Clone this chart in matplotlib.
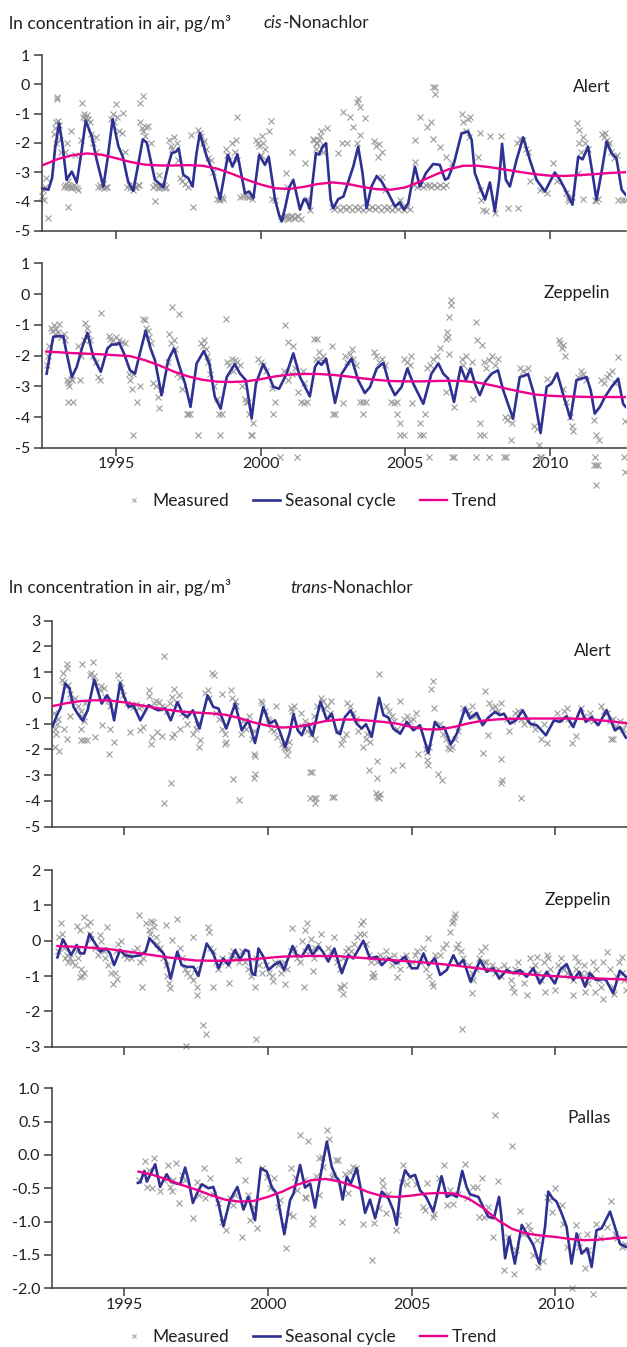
import matplotlib.pyplot as plt
from matplotlib.lines import Line2D

plt.rcParams["font.family"] = ["Lato", "DejaVu Sans"]
plt.rcParams["font.size"] = 12.5
plt.rcParams["axes.unicode_minus"] = False

GREY = "#9a9a9a"
BLUE = "#2e3192"
PINK = "#ec008c"
INK = "#231f20"
AXIS = "#3c3c3c"
TEXT_SIZE = 12.5
TICK_SIZE = 11.5

year_ticks = [1995, 2000, 2005, 2010]

# ---------------------------------------------------------------- cis-Nonachlor, Alert
cis_alert_measured = [
    (1992.45, -3.8), (1992.5, -3.6), (1992.55, -3.5), (1992.6, -3.2), (1992.52, -3.95), (1992.67, -4.56),
    (1992.96, -0.42), (1992.98, -0.5), (1992.9, -1.5), (1992.95, -1.3), (1993.0, -1.25), (1993.05, -1.4),
    (1992.88, -1.7), (1992.92, -2.0), (1993.1, -2.3), (1993.08, -1.9),
    (1993.2, -3.5), (1993.25, -3.45), (1993.3, -3.5), (1993.35, -3.45), (1993.4, -3.5), (1993.45, -3.55),
    (1993.5, -3.5), (1993.55, -3.45), (1993.6, -3.5), (1993.65, -3.55), (1993.7, -3.6), (1993.35, -3.3),
    (1993.25, -2.3), (1993.3, -2.0), (1993.44, -1.61), (1993.6, -2.4), (1993.34, -4.19),
    (1993.8, -1.9), (1993.85, -1.1), (1993.9, -1.0), (1993.95, -1.15), (1994.0, -1.05), (1994.05, -1.2),
    (1994.1, -1.3), (1993.84, -0.63), (1994.15, -1.7), (1994.2, -2.0), (1994.3, -2.3), (1994.3, -1.8),
    (1994.4, -3.5), (1994.45, -3.45), (1994.5, -3.5), (1994.55, -3.4), (1994.6, -3.55), (1994.65, -3.5),
    (1994.7, -3.5), (1994.85, -1.2), (1994.9, -1.0), (1995.0, -0.68), (1995.24, -0.97), (1994.95, -1.3),
    (1995.05, -1.1), (1995.1, -1.6), (1995.2, -1.67), (1995.3, -2.3),
    (1995.4, -3.5), (1995.45, -3.45), (1995.5, -3.55), (1995.55, -3.5), (1995.6, -3.6), (1995.65, -3.5),
    (1995.7, -3.5), (1995.75, -3.45), (1995.8, -3.45),
    (1995.85, -1.3), (1995.9, -1.5), (1995.95, -1.6), (1996.0, -1.75), (1996.05, -1.45), (1995.84, -0.65),
    (1995.93, -0.4), (1996.12, -1.42), (1996.2, -2.0),
    (1996.3, -3.5), (1996.35, -3.45), (1996.4, -3.45), (1996.45, -3.5), (1996.5, -3.55), (1996.55, -3.5),
    (1996.6, -3.5), (1996.65, -3.45), (1996.7, -3.55), (1996.75, -3.5), (1996.5, -3.1), (1996.35, -4.0),
    (1996.85, -1.9), (1996.9, -2.1), (1996.95, -2.2), (1997.0, -1.8), (1997.1, -2.0), (1997.15, -2.6),
    (1997.2, -3.2), (1997.3, -3.3), (1997.4, -3.4), (1997.5, -3.5), (1997.65, -4.19), (1997.6, -1.73),
    (1997.85, -1.55), (1997.9, -1.65), (1997.95, -1.75), (1998.0, -2.0), (1998.05, -1.95), (1998.1, -2.2),
    (1998.2, -2.5), (1998.3, -2.6), (1998.35, -3.0),
    (1998.5, -3.9), (1998.55, -3.95), (1998.6, -3.9), (1998.65, -3.85), (1998.7, -3.9),
    (1998.8, -2.2), (1998.85, -2.4), (1998.9, -2.6), (1999.0, -2.0), (1999.1, -2.3), (1999.17, -1.1),
    (1999.15, -1.9), (1999.2, -2.6), (1999.3, -3.85), (1999.4, -3.8), (1999.5, -3.8), (1999.55, -3.85),
    (1999.6, -3.85), (1999.7, -3.9),
    (1999.85, -1.9), (1999.9, -2.0), (1999.95, -2.1), (2000.0, -2.4), (2000.05, -1.75), (2000.1, -2.0),
    (2000.15, -2.2), (2000.2, -2.6), (2000.35, -1.24), (2000.3, -1.6), (2000.4, -3.9), (2000.5, -3.95),
    (2000.7, -4.5), (2000.75, -4.6), (2000.8, -4.55), (2000.85, -4.5), (2000.9, -4.5), (2000.95, -4.6),
    (2001.0, -4.55), (2001.05, -4.5), (2001.1, -4.5), (2001.15, -4.55), (2001.2, -4.55), (2001.25, -4.5),
    (2001.3, -4.5), (2001.4, -4.6),
    (2000.9, -3.5), (2000.87, -3.03), (2001.07, -2.3), (2001.53, -2.69), (2001.6, -3.9), (2001.7, -4.3),
    (2001.82, -1.85), (2001.85, -1.9), (2001.9, -2.0), (2001.95, -2.0), (2002.0, -1.9), (2002.05, -1.75),
    (2002.1, -1.6), (2002.15, -2.3), (2002.2, -2.1), (2002.28, -1.5), (2001.9, -2.2),
    (2002.45, -4.2), (2002.55, -4.25), (2002.65, -4.2), (2002.75, -4.3), (2002.85, -4.2), (2002.95, -4.25),
    (2003.05, -4.2), (2003.15, -4.3), (2003.25, -4.2), (2003.35, -4.25), (2003.45, -4.2), (2003.55, -4.3),
    (2003.65, -4.2), (2003.75, -4.25), (2003.85, -4.2), (2003.95, -4.25), (2004.05, -4.2), (2004.15, -4.3),
    (2004.25, -4.2), (2004.35, -4.25), (2004.45, -4.2), (2004.55, -4.3), (2004.65, -4.2), (2004.75, -4.25),
    (2004.85, -4.2), (2004.95, -4.3), (2005.05, -4.2), (2005.15, -4.25),
    (2002.86, -0.93), (2003.09, -1.1), (2003.2, -1.44), (2002.97, -2.0), (2003.32, -0.6), (2003.37, -0.5),
    (2003.43, -0.76), (2003.32, -2.0), (2003.43, -1.73), (2003.6, -1.16), (2002.68, -2.35), (2002.8, -2.0),
    (2003.9, -1.95), (2004.0, -2.1), (2004.1, -2.05), (2004.2, -2.3), (2004.06, -2.47), (2004.18, -3.15),
    (2004.3, -3.6), (2004.81, -3.94),
    (2005.5, -1.1), (2005.73, -1.44), (2005.9, -1.27), (2005.96, -0.1), (2006.02, -0.1), (2006.02, -0.33),
    (2005.96, -1.88), (2005.33, -1.9), (2005.33, -2.64),
    (2005.3, -3.45), (2005.4, -3.5), (2005.5, -3.45), (2005.6, -3.5), (2005.7, -3.45), (2005.8, -3.45),
    (2005.9, -3.5), (2006.0, -3.45), (2006.1, -3.5), (2006.2, -3.45), (2006.3, -3.5), (2006.4, -3.45),
    (2006.19, -2.13), (2006.42, -2.47), (2006.6, -2.69),
    (2006.94, -1.0), (2007.0, -1.3), (2007.1, -1.6), (2007.15, -1.2), (2007.2, -1.8), (2007.23, -1.1),
    (2007.57, -1.67), (2007.92, -1.78), (2007.52, -2.47), (2007.57, -3.6), (2007.69, -4.28), (2007.8, -4.34),
    (2007.6, -3.95), (2008.09, -4.4), (2008.32, -1.76), (2008.55, -4.23), (2008.9, -4.23),
    (2008.85, -2.0), (2008.95, -1.85), (2009.05, -1.9), (2009.15, -2.2), (2009.25, -2.3), (2009.3, -3.3),
    (2009.65, -3.6), (2009.9, -3.7), (2010.1, -2.7), (2010.25, -3.3),
    (2010.55, -3.7), (2010.6, -3.9), (2010.65, -4.0), (2010.75, -3.85), (2011.14, -3.9),
    (2010.93, -1.33), (2010.98, -1.55), (2011.0, -2.0), (2011.05, -2.3), (2011.15, -1.8), (2011.2, -2.0),
    (2011.3, -2.2), (2010.97, -3.03),
    (2011.55, -3.95), (2011.6, -4.0), (2011.65, -3.9),
    (2011.8, -1.7), (2011.85, -1.8), (2011.9, -1.65), (2011.95, -1.9), (2012.0, -2.1), (2012.05, -2.0),
    (2012.1, -2.3), (2012.2, -2.5), (2012.3, -2.4), (2012.35, -3.94), (2012.47, -3.95), (2012.57, -3.95),
]
cis_alert_seasonal = [
    (1992.45, -3.55), (1992.67, -3.6), (1992.8, -3.2), (1992.9, -2.2), (1993.04, -1.33), (1993.15, -2.0),
    (1993.3, -3.26), (1993.48, -2.98), (1993.65, -3.35), (1993.8, -2.4), (1993.96, -1.24), (1994.17, -1.78),
    (1994.34, -2.58), (1994.57, -3.49), (1994.72, -2.5), (1994.89, -1.19), (1995.09, -2.12), (1995.24, -2.47),
    (1995.42, -3.3), (1995.6, -3.64), (1995.78, -2.7), (1995.93, -1.88), (1996.07, -1.99), (1996.35, -3.26),
    (1996.64, -3.51), (1996.8, -2.8), (1996.93, -2.35), (1997.08, -2.3), (1997.17, -2.18), (1997.33, -3.09),
    (1997.5, -3.2), (1997.65, -3.49), (1997.78, -2.4), (1997.9, -1.67), (1998.14, -2.47), (1998.37, -3.03),
    (1998.6, -3.92), (1998.75, -3.1), (1998.87, -2.41), (1999.03, -2.81), (1999.2, -2.39), (1999.46, -3.72),
    (1999.61, -3.66), (1999.75, -3.89), (1999.95, -2.41), (2000.15, -2.75), (2000.28, -2.47), (2000.5, -3.94),
    (2000.65, -4.5), (2000.73, -4.68), (2000.85, -4.2), (2001.0, -3.5), (2001.13, -3.26), (2001.36, -4.28),
    (2001.5, -3.92), (2001.57, -3.94), (2001.7, -4.25), (2001.8, -3.3), (2001.91, -2.35), (2002.02, -2.4),
    (2002.14, -2.13), (2002.26, -2.01), (2002.42, -3.94), (2002.51, -4.23), (2002.68, -3.92), (2002.86, -3.83),
    (2003.03, -3.32), (2003.2, -2.81), (2003.37, -2.13), (2003.52, -3.03), (2003.66, -4.23), (2003.83, -3.49),
    (2004.01, -3.13), (2004.18, -3.32), (2004.41, -3.72), (2004.64, -4.17), (2004.81, -4.03), (2004.95, -4.28),
    (2005.1, -4.06), (2005.33, -2.81), (2005.5, -3.49), (2005.71, -3.03), (2005.96, -2.72), (2006.19, -2.75),
    (2006.37, -3.26), (2006.48, -3.2), (2006.68, -2.69), (2006.94, -1.67), (2007.17, -1.61), (2007.29, -1.9),
    (2007.4, -3.03), (2007.57, -3.49), (2007.75, -3.94), (2007.92, -3.35), (2008.09, -4.34), (2008.24, -3.26),
    (2008.34, -2.03), (2008.47, -3.26), (2008.61, -3.49), (2008.84, -2.58), (2009.07, -1.81), (2009.3, -2.58),
    (2009.53, -3.26), (2009.82, -3.66), (2010.16, -3.01), (2010.34, -3.26), (2010.57, -3.69), (2010.77, -4.11),
    (2010.97, -2.47), (2011.12, -2.56), (2011.31, -2.13), (2011.46, -3.03), (2011.6, -3.94), (2011.77, -3.03),
    (2011.95, -1.95), (2012.12, -2.35), (2012.29, -2.52), (2012.47, -3.6), (2012.61, -3.77),
]
cis_alert_trend = [
    (1992.45, -2.77), (1993.0, -2.55), (1993.5, -2.42), (1994.0, -2.36), (1994.5, -2.4), (1995.0, -2.52),
    (1995.5, -2.65), (1996.0, -2.74), (1996.5, -2.77), (1997.0, -2.77), (1997.5, -2.76), (1998.0, -2.78),
    (1998.5, -2.88), (1999.0, -3.05), (1999.5, -3.25), (2000.0, -3.42), (2000.5, -3.55), (2001.0, -3.57),
    (2001.5, -3.5), (2002.0, -3.4), (2002.5, -3.35), (2003.0, -3.4), (2003.5, -3.5), (2004.0, -3.58),
    (2004.5, -3.6), (2005.0, -3.52), (2005.5, -3.32), (2006.0, -3.1), (2006.5, -2.9), (2007.0, -2.78),
    (2007.5, -2.78), (2008.0, -2.84), (2008.5, -2.92), (2009.0, -3.0), (2009.5, -3.07), (2010.0, -3.12),
    (2010.5, -3.13), (2011.0, -3.1), (2011.5, -3.07), (2012.0, -3.03), (2012.62, -3.0),
]

# ---------------------------------------------------------------- cis-Nonachlor, Zeppelin
cis_zeppelin_measured = [
    (1992.75, -1.1), (1992.8, -1.2), (1992.85, -1.0), (1992.9, -1.3), (1992.95, -1.15), (1993.0, -1.25),
    (1993.05, -0.96), (1993.1, -1.4), (1993.2, -1.3), (1993.25, -1.5), (1992.7, -1.7), (1992.65, -2.0),
    (1992.62, -2.3), (1993.3, -2.8), (1993.35, -2.9), (1993.4, -3.0), (1993.45, -2.75), (1993.5, -2.8),
    (1993.36, -3.5), (1993.53, -3.5), (1993.7, -1.7), (1993.8, -2.0), (1993.9, -1.5), (1994.0, -1.1),
    (1994.05, -1.3), (1994.1, -1.5), (1993.95, -0.95), (1993.76, -2.8), (1994.2, -2.0), (1994.3, -2.2),
    (1994.4, -2.7), (1994.45, -2.8), (1994.49, -0.6), (1994.8, -1.45), (1994.9, -1.5), (1995.0, -1.4),
    (1995.1, -1.5), (1995.2, -1.55), (1995.3, -1.6), (1994.75, -1.35), (1995.45, -2.6), (1995.5, -2.8),
    (1995.55, -3.1), (1995.6, -2.6), (1995.72, -3.5), (1995.58, -4.6), (1995.83, -3.0),
    (1995.95, -0.8), (1996.0, -0.85), (1996.05, -1.1), (1996.1, -1.2), (1996.15, -1.4), (1996.2, -1.6),
    (1996.3, -2.9), (1996.4, -3.0), (1996.45, -3.35), (1996.5, -3.7), (1996.55, -3.1),
    (1996.93, -0.41), (1997.18, -0.65), (1996.85, -1.3), (1996.9, -1.6), (1997.0, -1.5), (1997.05, -1.8),
    (1996.8, -2.2), (1997.1, -2.6), (1997.2, -2.7), (1997.3, -3.1), (1997.45, -3.9), (1997.5, -3.9),
    (1997.55, -3.9), (1997.95, -1.6), (1998.0, -1.7), (1998.05, -1.5), (1998.1, -1.8), (1998.15, -2.0),
    (1998.2, -2.2), (1998.25, -2.6), (1997.85, -4.6), (1998.4, -3.0), (1998.5, -3.4), (1998.55, -3.9),
    (1998.65, -3.9), (1998.6, -4.6), (1998.8, -0.8), (1998.85, -2.2), (1998.9, -2.3), (1999.0, -2.1),
    (1999.1, -2.15), (1999.2, -2.2), (1999.3, -2.3), (1999.05, -2.5), (1999.35, -3.0), (1999.45, -3.4),
    (1999.5, -3.5), (1999.55, -3.5), (1999.6, -3.9), (1999.66, -4.6), (1999.7, -4.6), (1999.75, -4.2),
    (1999.9, -2.1), (2000.0, -2.2), (2000.1, -2.3), (2000.2, -2.5), (2000.44, -3.9), (2000.5, -3.5),
    (2000.38, -3.05), (2000.84, -1.0), (2000.96, -1.55), (2001.13, -1.7), (2000.8, -2.5), (2000.95, -2.8),
    (2001.1, -2.6), (2001.2, -2.4), (2001.4, -3.5), (2001.5, -3.55), (2001.6, -3.5), (2001.3, -3.2),
    (2001.85, -1.45), (2001.9, -2.1), (2001.45, -2.5), (2001.5, -2.9), (2001.94, -1.45), (2002.0, -1.9),
    (2002.05, -2.1), (2002.15, -2.0), (2002.2, -2.2), (2002.45, -1.7), (2002.51, -3.9), (2002.56, -3.9),
    (2002.86, -3.55), (2002.9, -2.0), (2003.0, -2.2), (2003.1, -1.95), (2003.2, -2.1), (2003.3, -2.3),
    (2003.15, -1.8), (2003.45, -3.5), (2003.55, -3.5), (2003.65, -3.5), (2003.55, -3.9), (2003.9, -1.9),
    (2004.0, -2.0), (2004.1, -2.2), (2004.2, -2.1), (2004.3, -2.3), (2004.5, -3.5), (2004.6, -3.55),
    (2004.7, -3.5), (2004.7, -3.9), (2004.8, -4.2), (2004.82, -4.6), (2004.95, -4.6), (2004.95, -2.1),
    (2005.05, -2.2), (2005.15, -2.3), (2005.2, -2.0), (2005.22, -3.55), (2005.5, -4.2), (2005.5, -4.6),
    (2005.6, -4.6), (2005.68, -3.9), (2005.75, -2.4), (2005.85, -2.3), (2005.95, -2.1), (2006.1, -2.0),
    (2006.2, -1.75), (2006.56, -0.2), (2006.57, -0.35), (2006.52, -0.76), (2006.45, -1.25), (2006.4, -1.45),
    (2006.5, -1.95), (2006.46, -1.4), (2006.68, -3.68), (2006.42, -3.2), (2006.95, -2.1), (2007.0, -2.3),
    (2007.1, -2.0), (2007.2, -2.5), (2007.3, -2.2), (2007.44, -0.9), (2007.63, -1.65), (2007.46, -1.5),
    (2007.57, -4.2), (2007.57, -4.6), (2007.72, -4.6), (2007.35, -3.4), (2007.7, -2.2), (2007.8, -2.4),
    (2007.9, -2.15), (2008.0, -2.0), (2008.1, -2.3), (2008.2, -2.1), (2008.5, -4.1), (2008.6, -4.0),
    (2008.7, -4.2), (2008.65, -4.74), (2008.45, -4.0), (2008.95, -2.4), (2009.05, -2.5), (2009.15, -2.6),
    (2009.25, -2.4), (2009.6, -4.9), (2009.45, -4.3), (2009.55, -4.4), (2009.88, -2.75), (2010.3, -1.5),
    (2010.35, -1.6), (2010.4, -1.75), (2010.45, -1.65), (2010.5, -2.0), (2010.45, -3.1), (2010.55, -3.5),
    (2010.7, -4.0), (2010.75, -4.3), (2010.8, -4.45), (2010.95, -2.7), (2011.05, -2.5), (2011.15, -2.6),
    (2011.25, -2.8), (2011.5, -4.1), (2011.6, -4.6), (2011.7, -4.75), (2011.75, -2.8), (2011.85, -2.9),
    (2011.95, -2.7), (2012.05, -2.6), (2012.15, -2.5), (2012.25, -2.9), (2012.35, -2.05), (2012.58, -4.13),
    (2000.66, -5.3), (2001.25, -5.3), (2005.8, -5.3), (2006.6, -5.3), (2006.68, -5.3), (2007.45, -5.3),
    (2007.9, -5.3), (2008.4, -5.3), (2008.47, -5.3), (2009.65, -5.3), (2009.7, -5.3), (2011.55, -5.3),
    (2011.5, -5.55), (2011.57, -5.55), (2011.64, -5.55), (2012.55, -5.3), (2012.6, -5.8), (2011.6, -6.2),
]
cis_zeppelin_seasonal = [
    (1992.61, -2.59), (1992.72, -2.0), (1992.84, -1.39), (1993.0, -1.37), (1993.19, -1.37), (1993.28, -1.83),
    (1993.48, -2.7), (1993.65, -2.37), (1993.85, -1.7), (1994.02, -1.26), (1994.22, -2.04), (1994.48, -2.53),
    (1994.71, -1.77), (1994.86, -1.64), (1995.03, -1.64), (1995.12, -1.59), (1995.28, -1.93), (1995.49, -2.48),
    (1995.66, -2.59), (1995.83, -1.93), (1996.03, -1.2), (1996.2, -1.77), (1996.35, -2.15), (1996.58, -3.29),
    (1996.81, -2.15), (1997.01, -1.77), (1997.22, -2.42), (1997.39, -2.91), (1997.58, -3.67), (1997.79, -2.26),
    (1998.04, -1.85), (1998.23, -2.26), (1998.42, -3.35), (1998.62, -3.73), (1998.83, -2.7), (1999.11, -2.28),
    (1999.29, -2.59), (1999.49, -2.8), (1999.69, -4.05), (1999.84, -2.91), (2000.09, -2.28), (2000.26, -2.59),
    (2000.44, -3.02), (2000.64, -3.08), (2000.9, -2.59), (2001.13, -1.93), (2001.36, -2.7), (2001.7, -3.33),
    (2001.88, -2.37), (2001.99, -2.21), (2002.1, -2.3), (2002.26, -2.1), (2002.4, -2.7), (2002.57, -3.54),
    (2002.8, -2.59), (2003.14, -2.1), (2003.37, -2.8), (2003.6, -3.22), (2003.78, -3.02), (2004.01, -2.42),
    (2004.24, -2.24), (2004.44, -2.91), (2004.64, -3.29), (2004.87, -3.02), (2005.07, -2.42), (2005.27, -2.91),
    (2005.62, -3.57), (2005.9, -2.59), (2006.14, -2.26), (2006.31, -2.59), (2006.48, -2.75), (2006.68, -3.51),
    (2006.91, -2.37), (2007.09, -2.8), (2007.25, -2.42), (2007.4, -2.91), (2007.57, -3.29), (2007.75, -2.86),
    (2007.98, -2.59), (2008.2, -2.48), (2008.38, -3.13), (2008.72, -4.05), (2008.95, -2.7), (2009.24, -2.61),
    (2009.42, -3.18), (2009.67, -4.52), (2009.88, -3.02), (2010.05, -2.91), (2010.24, -2.57), (2010.51, -3.46),
    (2010.7, -4.05), (2010.91, -2.8), (2011.08, -2.75), (2011.26, -2.7), (2011.4, -3.13), (2011.54, -3.89),
    (2011.72, -3.67), (2011.89, -3.35), (2012.12, -3.02), (2012.35, -2.75), (2012.52, -3.57), (2012.61, -3.67),
]
cis_zeppelin_trend = [
    (1992.6, -1.87), (1993.5, -1.92), (1994.5, -1.96), (1995.5, -2.02), (1996.0, -2.15), (1996.5, -2.32),
    (1997.0, -2.52), (1997.5, -2.68), (1998.0, -2.79), (1998.5, -2.85), (1999.0, -2.86), (1999.5, -2.84),
    (2000.0, -2.77), (2000.5, -2.68), (2001.0, -2.62), (2001.5, -2.6), (2002.0, -2.6), (2002.5, -2.63),
    (2003.0, -2.68), (2003.5, -2.74), (2004.0, -2.79), (2004.5, -2.83), (2005.0, -2.84), (2005.5, -2.84),
    (2006.0, -2.83), (2006.5, -2.82), (2007.0, -2.83), (2007.5, -2.88), (2008.0, -2.97), (2008.5, -3.08),
    (2009.0, -3.18), (2009.5, -3.27), (2010.0, -3.31), (2010.5, -3.33), (2011.0, -3.34), (2011.5, -3.35),
    (2012.62, -3.35),
]

# ---------------------------------------------------------------- trans-Nonachlor, Alert
trans_alert_measured = [
    (1992.55, -0.6), (1992.6, -1.2), (1992.62, -1.4), (1992.65, -1.0), (1992.7, -0.8), (1992.6, -1.9),
    (1992.75, -2.05), (1992.87, 0.97), (1993.0, 1.3), (1993.02, 1.15), (1992.92, 0.6), (1992.85, 0.7),
    (1993.05, 0.5), (1993.1, 0.15), (1993.15, -0.1), (1992.92, -1.2), (1993.0, -1.6), (1993.1, -0.7),
    (1993.3, 0.0), (1993.4, -0.3), (1993.5, -0.5), (1993.55, -0.7), (1993.6, -0.9), (1993.65, -0.2),
    (1993.5, -1.2), (1993.5, -1.65), (1993.6, -1.65), (1993.7, -1.65), (1993.53, 1.33),
    (1993.8, 0.9), (1993.85, 0.95), (1993.91, 1.4), (1993.95, 0.85), (1994.0, 0.6), (1994.0, -1.5),
    (1994.15, 0.3), (1994.2, 0.45), (1994.3, 0.4), (1994.35, 0.05), (1994.45, -0.1), (1994.5, -0.3),
    (1994.22, -1.05), (1994.46, -2.19), (1994.63, -1.7), (1994.5, -1.2),
    (1994.8, 0.88), (1994.85, 0.6), (1994.9, 0.4), (1994.95, 0.1),
    (1995.1, -0.2), (1995.2, -0.3), (1995.3, -0.35), (1995.4, -0.25), (1995.5, -0.4), (1995.6, -0.3),
    (1995.19, -1.32), (1995.56, -1.25), (1995.67, -1.12), (1995.85, 0.3), (1995.88, 0.07), (1995.93, -1.8),
    (1995.96, -1.5), (1996.05, -0.2), (1996.1, -0.1), (1996.2, -0.15), (1996.3, -0.3), (1996.4, -0.4),
    (1996.5, -0.5), (1996.6, -0.2), (1996.65, 0.05), (1996.14, -1.32), (1996.4, 1.62), (1996.62, -3.3),
    (1996.37, -4.08), (1996.31, -1.49), (1996.66, -1.52),
    (1996.75, 0.35), (1996.85, -0.2), (1996.9, 0.1), (1997.0, -0.6), (1997.1, -0.7), (1996.74, -1.4),
    (1996.95, -1.2), (1997.18, -1.02), (1997.4, -1.4), (1997.5, -1.2), (1997.55, -1.0), (1997.6, -1.9),
    (1997.65, -1.65), (1997.8, 0.2), (1997.9, 0.3), (1997.95, 0.0), (1998.07, 0.97), (1998.13, 0.9),
    (1998.4, 0.17), (1998.2, -0.6), (1998.3, -0.8), (1998.4, -1.2), (1998.5, -1.4), (1998.55, -1.7),
    (1998.52, -1.8), (1998.7, 0.3), (1998.75, 0.0), (1998.85, -0.1), (1998.9, -0.3), (1998.8, -3.13),
    (1999.0, -3.95), (1999.05, -1.4), (1999.15, -0.9), (1999.25, -1.2), (1999.35, -0.7), (1999.45, -1.6),
    (1999.5, -1.3), (1999.5, -2.16), (1999.55, -2.25), (1999.55, -2.94), (1999.52, -3.1),
    (1999.75, -0.1), (1999.8, -0.2), (1999.9, -0.5), (2000.0, -0.8), (2000.05, -0.9), (2000.28, -0.32),
    (2000.1, -1.2), (2000.2, -1.3), (2000.3, -1.5), (2000.5, -1.8), (2000.55, -1.9), (2000.6, -2.0),
    (2000.65, -2.2), (2000.7, -2.0), (2000.75, -1.7), (2000.8, -0.4), (2000.85, -0.5), (2000.9, -0.3),
    (2001.46, -2.87), (2001.46, -3.9), (2001.64, -4.1), (2001.6, -3.9), (2001.53, -2.87),
    (2001.15, -0.6), (2001.2, -1.1), (2001.3, -0.9), (2001.35, -1.3), (2001.45, -1.0), (2001.5, -1.4),
    (2001.6, -0.7), (2001.7, -0.3), (2001.64, -1.58), (2001.66, -3.9),
    (2001.85, 0.0), (2001.9, -0.1), (2001.95, -0.4), (2002.05, -0.3), (2002.15, -0.6), (2002.2, -0.1),
    (2002.23, -3.85), (2002.3, -3.85), (2002.45, -1.3), (2002.55, -1.8), (2002.6, -1.6), (2002.7, -1.4),
    (2002.75, -0.2), (2002.85, -0.3), (2002.95, -0.6), (2003.05, -0.8), (2003.15, -1.3), (2003.3, -1.9),
    (2003.4, -1.6), (2003.45, -1.4), (2003.55, -1.7), (2003.5, -2.78), (2003.78, -2.45), (2003.8, -3.1),
    (2003.75, -3.7), (2003.8, -3.8), (2003.85, -3.9), (2003.9, -3.75), (2003.82, -3.85), (2003.88, 0.92),
    (2004.1, -0.3), (2004.2, -0.5), (2004.3, -0.7), (2004.4, -0.9), (2004.5, -1.2), (2004.36, -2.78),
    (2004.65, -2.59), (2004.6, -0.1), (2004.75, -0.8), (2004.85, -0.7), (2004.95, -0.9), (2005.05, -0.8),
    (2005.15, -0.6), (2005.23, -2.19), (2005.5, -2.0), (2005.55, -2.1), (2005.6, -1.9), (2005.58, -2.6),
    (2005.52, -2.4), (2005.66, 0.36), (2005.75, 0.65), (2005.78, -0.41), (2005.9, -2.94), (2006.05, -3.17),
    (2006.0, -1.0), (2006.1, -1.4), (2006.2, -1.6), (2006.3, -1.8), (2006.4, -1.9), (2006.5, -1.6),
    (2006.6, -1.3), (2006.25, -1.95), (2006.35, -2.0),
    (2006.8, -0.4), (2006.9, -0.5), (2007.0, -0.6), (2007.1, -0.3), (2007.2, -0.7), (2007.47, -2.14),
    (2007.55, 0.27), (2007.7, -0.2), (2007.8, -0.4), (2007.9, -0.3), (2008.0, -0.5), (2008.1, -0.2),
    (2007.67, -1.45), (2008.1, -2.38), (2008.13, -3.2), (2008.1, -3.3),
    (2008.3, -0.8), (2008.4, -1.3), (2008.5, -0.9), (2008.6, -0.6), (2008.7, -0.5), (2008.8, -0.8),
    (2008.9, -1.0), (2009.0, -0.9), (2008.8, -3.87),
    (2009.2, -1.0), (2009.3, -1.2), (2009.5, -1.6), (2009.6, -1.0), (2009.72, -1.75),
    (2010.05, -0.6), (2010.15, -0.8), (2010.3, -0.5), (2010.45, -0.8), (2010.55, -1.0), (2010.41, -0.38),
    (2010.56, -1.77), (2010.71, -1.49), (2010.9, -0.4), (2011.0, -0.7), (2011.1, -0.8), (2011.2, -0.6),
    (2011.3, -0.9), (2011.6, -0.3), (2011.7, -0.5), (2011.8, -0.6), (2011.9, -0.9), (2012.0, -0.8),
    (2012.1, -1.1), (2011.95, -1.58), (2012.0, -1.58), (2012.25, -0.9), (2012.35, -1.2), (2012.45, -1.0),
]
trans_alert_seasonal = [
    (1992.51, -1.1), (1992.66, -0.67), (1992.78, -0.41), (1992.95, 0.56), (1993.1, 0.36), (1993.24, -0.35),
    (1993.38, -0.61), (1993.56, -0.89), (1993.73, -0.48), (1993.96, 0.71), (1994.11, 0.17), (1994.22, -0.22),
    (1994.4, 0.1), (1994.51, -0.09), (1994.65, -0.87), (1994.86, 0.58), (1995.0, 0.04), (1995.15, -0.35),
    (1995.32, -0.28), (1995.56, -0.87), (1995.85, -0.28), (1996.04, -0.41), (1996.19, -0.48), (1996.43, -0.41),
    (1996.62, -0.87), (1996.85, -0.16), (1997.04, -0.61), (1997.2, -0.74), (1997.39, -0.48), (1997.62, -1.19),
    (1997.9, 0.1), (1998.1, -0.35), (1998.28, -0.41), (1998.55, -1.19), (1998.86, -0.22), (1999.09, -1.26),
    (1999.32, -0.87), (1999.55, -1.75), (1999.84, -0.35), (2000.05, -1.0), (2000.25, -0.87), (2000.42, -1.32),
    (2000.6, -1.9), (2000.75, -1.39), (2000.89, -0.63), (2001.04, -1.26), (2001.18, -1.45), (2001.3, -1.1),
    (2001.41, -1.04), (2001.55, -1.47), (2001.7, -0.74), (2001.83, -0.15), (2002.05, -0.87), (2002.22, -0.61),
    (2002.39, -1.32), (2002.51, -1.41), (2002.68, -0.74), (2002.88, -0.48), (2003.09, -1.0), (2003.26, -1.19),
    (2003.41, -1.02), (2003.61, -1.51), (2003.87, 0.01), (2004.02, -0.67), (2004.19, -0.76), (2004.36, -1.19),
    (2004.6, -1.39), (2004.83, -0.93), (2005.06, -1.26), (2005.29, -1.06), (2005.58, -2.14), (2005.81, -0.93),
    (2005.99, -1.19), (2006.13, -1.13), (2006.36, -1.8), (2006.57, -1.39), (2006.86, -0.38), (2007.03, -0.8),
    (2007.26, -0.58), (2007.47, -1.06), (2007.67, -0.76), (2007.9, -0.54), (2008.07, -0.67), (2008.21, -0.61),
    (2008.42, -1.0), (2008.63, -0.87), (2008.86, -0.48), (2009.12, -1.0), (2009.35, -1.06), (2009.67, -1.45),
    (2009.95, -0.87), (2010.16, -0.93), (2010.39, -0.71), (2010.62, -1.13), (2010.88, -0.41), (2011.06, -0.93),
    (2011.26, -0.74), (2011.49, -1.06), (2011.78, -0.48), (2012.07, -1.26), (2012.24, -1.13), (2012.45, -1.54),
]
trans_alert_trend = [
    (1992.5, -0.32), (1993.0, -0.2), (1993.5, -0.12), (1994.0, -0.09), (1994.5, -0.1), (1995.0, -0.17),
    (1995.5, -0.27), (1996.0, -0.37), (1996.5, -0.46), (1997.0, -0.53), (1997.5, -0.57), (1998.0, -0.6),
    (1998.5, -0.65), (1999.0, -0.78), (1999.5, -0.95), (2000.0, -1.08), (2000.5, -1.15), (2001.0, -1.12),
    (2001.5, -1.02), (2002.0, -0.9), (2002.5, -0.84), (2003.0, -0.84), (2003.5, -0.88), (2004.0, -0.93),
    (2004.5, -1.0), (2005.0, -1.13), (2005.5, -1.22), (2006.0, -1.22), (2006.5, -1.12), (2007.0, -0.98),
    (2007.5, -0.88), (2008.0, -0.83), (2008.5, -0.81), (2009.0, -0.8), (2009.5, -0.8), (2010.0, -0.8),
    (2010.5, -0.8), (2011.0, -0.82), (2011.5, -0.86), (2012.0, -0.92), (2012.48, -0.98),
]

# ---------------------------------------------------------------- trans-Nonachlor, Zeppelin
trans_zeppelin_measured = [
    (1992.7, -0.3), (1992.75, 0.1), (1992.8, 0.49), (1992.85, 0.2), (1992.9, -0.2), (1992.95, -0.5),
    (1993.0, -0.4), (1993.05, -0.6), (1993.1, -0.5), (1993.2, -0.6), (1993.3, -0.7), (1993.35, -0.3),
    (1993.4, -0.5), (1993.5, -0.8), (1993.55, -1.0), (1993.6, -0.9), (1993.45, -1.02), (1993.35, 0.42),
    (1993.45, 0.3), (1993.6, 0.68), (1993.7, 0.45), (1993.8, 0.2), (1993.85, 0.05), (1993.82, 0.54),
    (1994.0, -0.2), (1994.1, -0.4), (1994.2, 0.0), (1994.3, -0.3), (1994.35, -0.5), (1994.45, -0.7),
    (1994.55, -0.9), (1994.6, -1.23), (1994.42, 0.38), (1994.15, 0.15), (1994.7, -0.3), (1994.8, -0.1),
    (1994.9, 0.0), (1995.0, -0.4), (1995.1, -0.5), (1994.69, -0.92), (1994.75, -1.07), (1995.15, -0.4),
    (1995.25, -0.5), (1995.35, -0.3), (1995.45, -0.2), (1995.55, -0.6), (1995.65, -0.5), (1995.61, -1.32),
    (1995.5, 0.73), (1995.75, 0.5), (1995.85, 0.3), (1995.9, 0.2), (1995.95, 0.55), (1996.05, 0.4),
    (1996.1, 0.1), (1996.15, -0.1), (1996.02, 0.54), (1996.25, -0.2), (1996.35, -0.5), (1996.45, -0.7),
    (1996.5, -1.0), (1996.55, -1.2), (1996.6, -1.35), (1996.45, 0.44), (1996.83, 0.61), (1996.66, 0.02),
    (1996.95, -0.2), (1997.0, -0.5), (1997.1, -0.8), (1997.2, -0.9), (1997.3, -1.0), (1997.4, -1.1),
    (1997.45, -0.8), (1997.38, 0.11), (1997.53, -1.54), (1997.55, -1.3), (1997.73, -2.39), (1997.84, -2.64),
    (1997.14, -2.97), (1997.9, 0.4), (1997.95, 0.25), (1998.0, -0.2), (1998.1, -0.3), (1998.2, -0.6),
    (1998.25, -0.8), (1998.1, -1.3), (1998.4, -0.5), (1998.5, -0.6), (1998.6, -0.7), (1998.7, -0.4),
    (1998.8, -0.3), (1998.9, -0.5), (1999.0, -0.6), (1998.63, -1.2), (1999.1, -0.3), (1999.2, -0.6),
    (1999.3, -0.8), (1999.4, -1.0), (1999.5, -0.9), (1999.6, -0.5), (1999.7, -0.7), (1999.8, -0.9),
    (1999.55, -1.3), (1999.57, -2.79), (1999.95, -0.7), (2000.05, -0.9), (2000.15, -1.0), (2000.25, -0.6),
    (2000.35, -0.7), (2000.45, -0.9), (2000.55, -0.6), (2000.65, -0.8), (2000.17, -1.13), (2000.6, -1.23),
    (2000.8, -0.3), (2000.85, 0.35), (2000.9, -0.2), (2001.0, -0.5), (2001.1, -0.6), (2001.2, 0.0),
    (2001.3, -0.3), (2001.4, -0.2), (2001.37, 0.49), (2001.5, 0.05), (2001.6, -0.5), (2001.65, -0.2),
    (2001.75, -0.1), (2001.85, 0.2), (2001.24, -1.32), (2001.56, -0.85), (2001.3, 0.3), (2001.45, -0.3),
    (2002.1, -0.2), (2002.2, -0.3), (2002.3, 0.1), (2002.4, -0.6), (2002.5, -0.8), (2002.6, -0.5),
    (2002.7, -0.3), (2002.5, -1.3), (2002.55, -1.35), (2002.6, -1.5), (2002.65, -1.25), (2002.8, -0.2),
    (2002.9, -0.3), (2003.0, -0.1), (2003.1, 0.1), (2003.2, 0.19), (2003.25, 0.46), (2003.3, 0.55),
    (2003.35, 0.2), (2003.4, -0.1), (2003.5, -0.4), (2003.6, -0.6), (2003.65, -0.9), (2003.7, -1.0),
    (2003.8, -0.6), (2003.9, -0.4), (2004.0, -0.5), (2003.61, -1.04), (2004.1, -0.3), (2004.2, -0.5),
    (2004.3, -0.7), (2004.4, -0.4), (2004.5, -0.6), (2004.6, -0.8), (2004.7, -0.5), (2004.8, -0.4),
    (2004.9, -0.7), (2005.0, -0.6), (2005.1, -0.4), (2004.48, -1.04), (2005.2, -0.3), (2005.3, -0.6),
    (2005.4, -0.2), (2005.5, -0.8), (2005.6, -1.0), (2005.7, -1.2), (2005.8, -0.4), (2005.58, 0.09),
    (2005.75, -1.28), (2006.0, -0.4), (2006.1, -0.2), (2006.2, -0.1), (2006.35, 0.25), (2006.45, 0.55),
    (2006.48, 0.68), (2006.5, 0.77), (2006.4, 0.5), (2006.55, -0.2), (2006.6, -0.1), (2006.7, -0.3),
    (2006.8, -0.5), (2006.74, -2.51), (2007.0, -0.7), (2007.1, -0.9), (2007.15, -1.1), (2007.25, -0.8),
    (2007.35, -0.5), (2007.4, -0.3), (2007.5, -0.6), (2007.09, -1.47), (2007.55, -0.17), (2007.6, -0.6),
    (2007.7, -0.8), (2007.8, -0.7), (2007.9, -0.9), (2008.0, -0.8), (2008.1, -1.0), (2008.2, -0.7),
    (2008.3, -0.8), (2008.45, -1.1), (2008.5, -1.3), (2008.55, -1.45), (2008.6, -0.8), (2008.7, -0.6),
    (2008.8, -0.9), (2008.9, -1.2), (2009.0, -1.54), (2009.1, -0.5), (2009.2, -0.8), (2009.3, -0.7),
    (2009.4, -0.9), (2009.5, -1.1), (2009.6, -0.6), (2009.7, -0.4), (2009.75, -0.5), (2009.8, -0.8),
    (2009.35, -0.45), (2009.64, -1.44), (2009.98, -1.4), (2010.1, -0.7), (2010.2, -0.5), (2010.3, -0.8),
    (2010.4, -0.9), (2010.5, -1.0), (2010.6, -1.1), (2010.7, -0.8), (2010.8, -0.6), (2010.9, -0.9),
    (2010.62, -1.54), (2010.68, -0.45), (2011.0, -0.7), (2011.1, -0.9), (2011.15, -1.2), (2011.2, -1.0),
    (2011.3, -0.6), (2011.4, -0.8), (2011.5, -1.1), (2011.6, -1.3), (2011.65, -0.6), (2011.03, -1.44),
    (2011.38, -1.44), (2011.66, -1.66), (2011.78, -0.31), (2011.9, -0.8), (2012.0, -1.3), (2012.05, -1.5),
    (2012.1, -1.0), (2012.2, -0.6), (2012.3, -0.9), (2012.4, -1.1), (2012.45, -1.4), (2012.3, -0.45),
]
trans_zeppelin_seasonal = [
    (1992.68, -0.47), (1992.87, 0.04), (1993.01, -0.17), (1993.15, -0.41), (1993.35, -0.12), (1993.47, -0.36),
    (1993.61, -0.36), (1993.79, 0.19), (1993.99, -0.08), (1994.17, -0.31), (1994.37, -0.22), (1994.51, -0.36),
    (1994.65, -0.69), (1994.86, -0.26), (1995.03, -0.41), (1995.27, -0.45), (1995.56, -0.41), (1995.75, -0.3),
    (1995.88, 0.07), (1996.14, -0.17), (1996.37, -0.36), (1996.48, -0.64), (1996.62, -1.07), (1996.77, -0.55),
    (1996.85, -0.31), (1997.0, -0.69), (1997.18, -0.74), (1997.41, -0.74), (1997.58, -1.0), (1997.87, -0.08),
    (1998.1, -0.36), (1998.28, -0.78), (1998.45, -0.5), (1998.63, -0.69), (1998.86, -0.26), (1999.03, -0.53),
    (1999.21, -0.26), (1999.33, -0.3), (1999.44, -0.92), (1999.55, -0.97), (1999.67, -0.22), (1999.84, -0.45),
    (2000.02, -0.83), (2000.21, -0.69), (2000.42, -0.59), (2000.56, -0.83), (2000.68, -0.55), (2000.86, -0.15),
    (2001.0, -0.41), (2001.18, -0.45), (2001.41, -0.12), (2001.55, -0.41), (2001.76, -0.17), (2001.9, -0.3),
    (2002.1, -0.59), (2002.31, -0.22), (2002.57, -0.92), (2002.8, -0.41), (2002.97, -0.5), (2003.32, 0.0),
    (2003.55, -0.5), (2003.79, -0.45), (2003.96, -0.69), (2004.19, -0.5), (2004.48, -0.64), (2004.77, -0.45),
    (2005.0, -0.78), (2005.2, -0.78), (2005.41, -0.36), (2005.58, -0.69), (2005.81, -0.5), (2005.99, -0.97),
    (2006.22, -0.83), (2006.45, -0.41), (2006.62, -0.69), (2006.8, -0.55), (2007.05, -1.16), (2007.38, -0.55),
    (2007.61, -0.88), (2007.84, -0.78), (2008.05, -1.07), (2008.3, -0.83), (2008.54, -0.92), (2008.77, -0.83),
    (2009.0, -1.02), (2009.23, -0.78), (2009.46, -1.21), (2009.7, -0.88), (2009.98, -1.21), (2010.16, -0.83),
    (2010.39, -0.66), (2010.62, -1.11), (2010.83, -0.88), (2011.03, -1.3), (2011.2, -0.92), (2011.41, -1.11),
    (2011.61, -1.09), (2011.75, -1.1), (2012.01, -1.49), (2012.24, -0.85), (2012.45, -1.02),
]
trans_zeppelin_trend = [
    (1992.68, -0.15), (1993.5, -0.18), (1994.5, -0.24), (1995.5, -0.35), (1996.5, -0.47), (1997.5, -0.56),
    (1998.5, -0.57), (1999.5, -0.52), (2000.5, -0.45), (2001.5, -0.43), (2002.5, -0.44), (2003.5, -0.5),
    (2004.5, -0.56), (2005.5, -0.62), (2006.5, -0.7), (2007.5, -0.8), (2008.5, -0.91), (2009.5, -0.98),
    (2010.5, -1.03), (2011.5, -1.07), (2012.48, -1.1),
]

# ---------------------------------------------------------------- trans-Nonachlor, Pallas
trans_pallas_measured = [
    (1995.5, -0.38), (1995.73, -0.09), (1995.81, -0.48), (1995.96, -0.5), (1996.05, -0.04), (1995.88, -0.22),
    (1996.23, -0.54), (1996.37, -0.38), (1996.54, -0.15), (1996.66, -0.54), (1996.6, -0.48), (1996.8, -0.12),
    (1996.71, -0.38), (1996.89, -0.72), (1997.0, -0.3), (1997.12, -0.38), (1997.39, -0.94), (1997.53, -0.4),
    (1997.62, -0.6), (1997.76, -0.19), (1997.82, -0.64), (1997.99, -0.34), (1998.1, -0.58), (1998.28, -0.72),
    (1998.4, -1.0), (1998.55, -1.13), (1998.69, -0.65), (1998.8, -0.75), (1998.86, -0.6), (1998.95, -0.08),
    (1999.09, -1.23), (1999.21, -0.37), (1999.29, -0.6), (1999.36, -0.98), (1999.52, -0.78), (1999.61, -1.09),
    (1999.79, -0.19), (1999.96, -0.33), (2000.08, -0.5), (2000.21, -0.35), (2000.36, -0.78), (2000.42, -0.67),
    (2000.56, -1.03), (2000.63, -1.39), (2000.75, -0.88), (2000.86, -0.92), (2000.79, -0.19), (2000.94, -0.33),
    (2001.02, -0.53), (2001.12, 0.3), (2001.41, 0.21), (2001.26, -0.37), (2001.33, -0.64), (2001.52, -1.04),
    (2001.58, -0.95), (2001.67, -0.32), (2001.76, -0.04), (2001.29, -0.63), (2001.76, -0.6), (2001.87, -0.03),
    (2001.93, -0.18), (2002.05, 0.38), (2002.14, 0.24), (2002.22, -0.33), (2002.28, -0.3), (2002.37, -0.08),
    (2002.45, -0.08), (2002.57, -1.0), (2002.68, -0.28), (2002.8, -0.57), (2002.86, -0.25), (2002.97, -0.18),
    (2003.07, -0.19), (2003.32, -1.04), (2003.61, -1.57), (2003.69, -1.02), (2003.88, -0.8), (2003.96, -0.37),
    (2004.02, -0.47), (2004.19, -0.59), (2004.11, -0.87), (2004.46, -1.13), (2004.54, -0.9), (2004.65, -0.4),
    (2004.71, -0.15), (2004.85, -0.43), (2004.94, -0.33), (2005.15, -0.43), (2005.41, -0.78), (2005.47, -0.82),
    (2005.55, -0.42), (2005.73, -0.93), (2005.78, -0.88), (2005.96, -0.35), (2006.13, -0.15), (2006.22, -0.75),
    (2006.33, -0.52), (2006.45, -0.73), (2006.62, -0.58), (2006.85, -0.13), (2006.91, -0.65), (2007.12, -0.48),
    (2007.26, -0.48), (2007.34, -0.93), (2007.43, -0.34), (2007.53, -0.93), (2007.67, -0.78), (2007.84, -1.23),
    (2007.9, 0.6), (2008.01, -0.39), (2008.22, -1.72), (2008.36, -1.23), (2008.49, 0.13), (2008.57, -1.79),
    (2008.63, -1.42), (2008.77, -0.84), (2008.88, -1.18), (2009.05, -1.05), (2009.12, -1.13), (2009.23, -1.5),
    (2009.35, -1.28), (2009.41, -1.68), (2009.56, -1.59), (2009.7, -0.63), (2009.79, -0.68), (2009.98, -0.5),
    (2009.87, -0.85), (2010.22, -0.75), (2010.27, -1.03), (2010.39, -1.38), (2010.56, -2.0), (2010.71, -1.05),
    (2010.77, -1.2), (2010.83, -1.38), (2011.03, -1.7), (2011.11, -1.18), (2011.14, -1.43), (2011.32, -2.09),
    (2011.4, -1.04), (2011.56, -1.25), (2011.78, -1.08), (2011.95, -0.69), (2012.07, -1.18), (2012.13, -1.25),
    (2012.3, -1.38), (2012.42, -1.33),
]
trans_pallas_seasonal = [
    (1995.48, -0.42), (1995.56, -0.41), (1995.7, -0.24), (1995.79, -0.4), (1996.08, -0.14), (1996.25, -0.48),
    (1996.36, -0.38), (1996.48, -0.29), (1996.62, -0.4), (1996.83, -0.43), (1996.95, -0.44), (1997.12, -0.19),
    (1997.24, -0.38), (1997.39, -0.72), (1997.53, -0.58), (1997.7, -0.44), (1997.93, -0.5), (1998.1, -0.48),
    (1998.28, -0.73), (1998.45, -1.07), (1998.68, -0.68), (1998.94, -0.48), (1999.15, -0.82), (1999.32, -0.63),
    (1999.55, -0.98), (1999.75, -0.2), (1999.96, -0.25), (2000.13, -0.48), (2000.31, -0.58), (2000.57, -1.19),
    (2000.77, -0.68), (2000.89, -0.58), (2001.12, -0.15), (2001.29, -0.49), (2001.47, -0.43), (2001.64, -0.79),
    (2001.82, -0.33), (2002.05, 0.2), (2002.22, -0.18), (2002.37, -0.33), (2002.47, -0.38), (2002.6, -0.67),
    (2002.74, -0.33), (2002.88, -0.43), (2003.09, -0.2), (2003.26, -0.58), (2003.38, -0.87), (2003.55, -0.67),
    (2003.73, -0.95), (2003.96, -0.55), (2004.19, -0.65), (2004.36, -0.83), (2004.48, -1.05), (2004.62, -0.48),
    (2004.77, -0.23), (2004.94, -0.33), (2005.12, -0.3), (2005.29, -0.53), (2005.5, -0.63), (2005.75, -0.85),
    (2006.04, -0.32), (2006.22, -0.63), (2006.39, -0.59), (2006.57, -0.63), (2006.76, -0.24), (2006.91, -0.48),
    (2007.03, -0.59), (2007.32, -0.63), (2007.49, -0.78), (2007.67, -0.93), (2007.86, -0.95), (2008.04, -0.63),
    (2008.11, -0.88), (2008.25, -1.55), (2008.4, -1.23), (2008.59, -1.63), (2008.83, -1.05), (2009.0, -1.18),
    (2009.23, -1.35), (2009.44, -1.63), (2009.64, -1.08), (2009.75, -0.55), (2009.9, -0.65), (2010.04, -0.7),
    (2010.22, -0.88), (2010.39, -1.08), (2010.56, -1.63), (2010.74, -1.18), (2010.91, -1.48), (2011.11, -1.4),
    (2011.26, -1.68), (2011.43, -1.13), (2011.61, -1.1), (2011.9, -0.85), (2012.07, -1.08), (2012.24, -1.33),
    (2012.45, -1.38),
]
trans_pallas_trend = [
    (1995.5, -0.25), (1996.0, -0.3), (1996.5, -0.37), (1997.0, -0.45), (1997.5, -0.52), (1998.0, -0.6),
    (1998.5, -0.67), (1999.0, -0.7), (1999.5, -0.69), (2000.0, -0.63), (2000.5, -0.55), (2001.0, -0.45),
    (2001.5, -0.38), (2002.0, -0.36), (2002.5, -0.4), (2003.0, -0.47), (2003.5, -0.56), (2004.0, -0.62),
    (2004.5, -0.63), (2005.0, -0.61), (2005.5, -0.58), (2006.0, -0.57), (2006.5, -0.58), (2007.0, -0.66),
    (2007.5, -0.8), (2008.0, -0.98), (2008.5, -1.11), (2009.0, -1.18), (2009.5, -1.21), (2010.0, -1.23),
    (2010.5, -1.26), (2011.0, -1.28), (2011.5, -1.27), (2012.0, -1.25), (2012.48, -1.24),
]


def draw_panel(fig, rect, xlim, ylim, yticks, ylabels, station, station_y,
               measured, seasonal, trend, show_years):
    ax = fig.add_axes(rect)
    mx, my = zip(*measured)
    ax.plot(mx, my, ls="none", marker="x", ms=4.2, mew=0.8, color=GREY,
            clip_on=False, zorder=2)
    sx, sy = zip(*seasonal)
    ax.plot(sx, sy, color=BLUE, lw=1.9, solid_joinstyle="round", zorder=3)
    tx, ty = zip(*trend)
    ax.plot(tx, ty, color=PINK, lw=1.7, solid_joinstyle="round", zorder=4)

    ax.set_xlim(*xlim)
    ax.set_ylim(*ylim)
    ax.set_xticks(year_ticks)
    ax.set_xticklabels([str(y) for y in year_ticks] if show_years else [])
    ax.set_yticks(yticks)
    ax.set_yticklabels(ylabels)
    for side in ("top", "right"):
        ax.spines[side].set_visible(False)
    for side in ("left", "bottom"):
        ax.spines[side].set_color(AXIS)
        ax.spines[side].set_linewidth(1.1)
    ax.tick_params(direction="out", length=5.5, width=1.1, color=AXIS,
                   labelcolor=INK, labelsize=TICK_SIZE)
    ax.tick_params(axis="y", pad=3)
    ax.tick_params(axis="x", pad=1.5)
    ax.text(0.973, station_y, station, transform=ax.transAxes, ha="right",
            va="center", color=INK, fontsize=TEXT_SIZE)
    return ax


def add_title(fig, y, x_compound, italic_part):
    fig.text(9 / 627, y, "ln concentration in air, pg/m³", ha="left",
             va="center", color=INK, fontsize=TEXT_SIZE)
    t = fig.text(x_compound, y, italic_part, ha="left", va="center",
                 color=INK, fontsize=TEXT_SIZE, style="italic")
    plt.annotate("-Nonachlor", xy=(1, 0), xycoords=t, ha="left", va="bottom",
                 color=INK, fontsize=TEXT_SIZE)


def add_legend(fig, y):
    handles = [
        Line2D([], [], ls="none", marker="x", ms=3.4, mew=0.7, color=GREY),
        Line2D([], [], color=BLUE, lw=1.9),
        Line2D([], [], color=PINK, lw=1.7),
    ]
    fig.legend(handles, ["Measured", "Seasonal cycle", "Trend"], loc="center",
               bbox_to_anchor=(0.493, y), ncol=3, frameon=False, fontsize=TEXT_SIZE,
               handlelength=1.55, handletextpad=0.29, columnspacing=1.38,
               labelcolor=INK)


fig = plt.figure(figsize=(6.27, 13.47), dpi=100)

cis_rect_x = (41.7 / 627, 584.3 / 627)
trans_rect_x = (52.3 / 627, 574.4 / 627)
cis_xlim = (1992.44, 2012.62)
trans_xlim = (1992.5, 2012.48)

cis_y = list(range(-5, 2))
draw_panel(fig, (cis_rect_x[0], 0.8287, cis_rect_x[1], 0.1304), cis_xlim, (-5, 1),
           cis_y, [str(v) for v in cis_y], "Alert", 0.82,
           cis_alert_measured, cis_alert_seasonal, cis_alert_trend, False)
draw_panel(fig, (cis_rect_x[0], 0.6676, cis_rect_x[1], 0.1369), cis_xlim, (-5, 1),
           cis_y, [str(v) for v in cis_y], "Zeppelin", 0.837,
           cis_zeppelin_measured, cis_zeppelin_seasonal, cis_zeppelin_trend, True)

alert_y = list(range(-5, 4))
draw_panel(fig, (trans_rect_x[0], 0.3863, trans_rect_x[1], 0.1529), trans_xlim, (-5, 3),
           alert_y, [str(v) for v in alert_y], "Alert", 0.854,
           trans_alert_measured, trans_alert_seasonal, trans_alert_trend, False)
zeppelin_y = list(range(-3, 3))
draw_panel(fig, (trans_rect_x[0], 0.2229, trans_rect_x[1], 0.1312), trans_xlim, (-3, 2),
           zeppelin_y, [str(v) for v in zeppelin_y], "Zeppelin", 0.83,
           trans_zeppelin_measured, trans_zeppelin_seasonal, trans_zeppelin_trend, False)
pallas_y = [-2.0, -1.5, -1.0, -0.5, 0.0, 0.5, 1.0]
draw_panel(fig, (trans_rect_x[0], 0.0436, trans_rect_x[1], 0.1485), trans_xlim, (-2, 1),
           pallas_y, [f"{v:.1f}" for v in pallas_y], "Pallas", 0.85,
           trans_pallas_measured, trans_pallas_seasonal, trans_pallas_trend, True)

add_title(fig, 1 - 23 / 1347, 264 / 627, "cis")
add_title(fig, 1 - 588 / 1347, 290 / 627, "trans")
add_legend(fig, 1 - 501 / 1347)
add_legend(fig, 1 - 1337 / 1347)

fig.savefig("out.png", dpi=100)
